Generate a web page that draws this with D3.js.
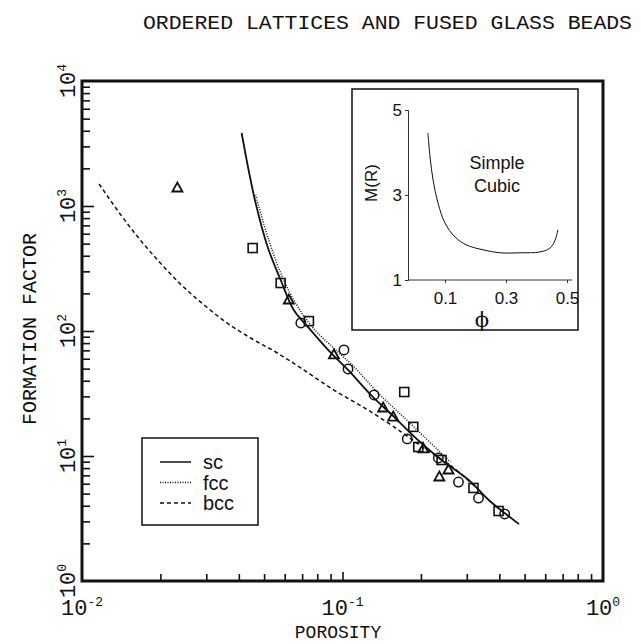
<!DOCTYPE html>
<meta charset="utf-8">
<script src="https://d3js.org/d3.v7.min.js"></script>
<style>
  body { margin: 0; background: #fff; }
  text { fill: #111; }
</style>
<div id="chart"></div>
<script>

// curves: [porosity, formation factor]
var sc = [[0.041, 3837], [0.0436, 1941], [0.0464, 1057], [0.0516, 470], [0.0579, 256],
  [0.065, 147], [0.0736, 108], [0.0903, 66.7], [0.105, 48.8], [0.131, 29.6], [0.158, 20.5],
  [0.195, 13.4], [0.24, 9.29], [0.305, 6.43], [0.364, 4.45], [0.476, 2.85]];
var fcc = [[0.0464, 1225], [0.0521, 535], [0.059, 265], [0.0668, 161], [0.077, 106],
  [0.0961, 67.9], [0.11, 52.5], [0.137, 31.9], [0.165, 22.1], [0.204, 14.5], [0.26, 8.95]];
var bcc = [[0.01163, 1500], [0.01401, 863], [0.01673, 535], [0.01998, 350], [0.02385, 238],
  [0.02849, 171], [0.0356, 118], [0.0444, 87.9], [0.0554, 67.9], [0.0692, 50.6], [0.0927, 33.7],
  [0.1254, 23.3], [0.168, 15.6], [0.21, 11.2], [0.262, 8.3], [0.321, 5.75]];

// measured samples
var squares = [[0.0452, 461], [0.0579, 242], [0.0743, 120], [0.1726, 32.5], [0.187, 17.1],
  [0.1954, 11.8], [0.24, 9.29], [0.3183, 5.55], [0.3973, 3.63]];
var triangles = [[0.02323, 1393], [0.0622, 177], [0.0927, 64.3], [0.1432, 24.2], [0.1565, 20.5],
  [0.2042, 11.4], [0.2551, 7.73], [0.2354, 6.79]];
var circles = [[0.0692, 116], [0.1013, 70.5], [0.105, 49.7], [0.1322, 30.8], [0.1773, 13.7],
  [0.2333, 9.64], [0.2787, 6.19], [0.3328, 4.61], [0.4193, 3.44]];

// inset: M(R) for simple cubic
var inset = [[0.044, 4.46], [0.051, 3.89], [0.061, 3.35], [0.077, 2.81], [0.1, 2.34],
  [0.133, 2.01], [0.172, 1.82], [0.225, 1.71], [0.28, 1.64], [0.346, 1.64], [0.411, 1.66],
  [0.444, 1.75], [0.461, 1.94], [0.47, 2.18]];
var insetXTicks = [0.1, 0.3, 0.5];
var insetYTicks = [1, 3, 5];

var xDecades = [-2, -1, 0];
var yDecades = [0, 1, 2, 3, 4];
var legendItems = ["sc", "fcc", "bcc"];

var W = 641, H = 644;
var plot = {left: 82, right: 603, top: 81, bottom: 581};
var mono = "'Liberation Mono', 'DejaVu Sans Mono', monospace";
var sans = "'Liberation Sans', Arial, sans-serif";

var svg = d3.select("#chart").append("svg")
  .attr("width", W).attr("height", H);

var x = d3.scaleLog().domain([0.01, 1]).range([plot.left, plot.right]);
var y = d3.scaleLog().domain([1, 1e4]).range([plot.bottom, plot.top]);

// title
svg.append("text")
  .attr("x", 143).attr("y", 29)
  .attr("textLength", 489).attr("lengthAdjust", "spacingAndGlyphs")
  .style("font-family", mono).style("font-size", "21px")
  .text("ORDERED LATTICES AND FUSED GLASS BEADS");

// minor ticks
var xMinor = [], yMinor = [];
for (var e = -2; e < 0; e++) for (var m = 2; m <= 9; m++) xMinor.push(m * Math.pow(10, e));
for (var e = 0; e < 4; e++) for (var m = 2; m <= 9; m++) yMinor.push(m * Math.pow(10, e));

function tickAxis(axis, vals, size, tr) {
  var g = svg.append("g").attr("transform", tr)
    .call(axis.tickValues(vals).tickSize(size).tickFormat(""));
  g.select(".domain").remove();
  g.selectAll("line").attr("stroke", "#111").attr("stroke-width", 1.6);
}
tickAxis(d3.axisBottom(x), xMinor, -7, "translate(0," + plot.bottom + ")");
tickAxis(d3.axisBottom(x), [0.1], -9, "translate(0," + plot.bottom + ")");
tickAxis(d3.axisLeft(y), yMinor, -8, "translate(" + plot.left + ",0)");
tickAxis(d3.axisLeft(y), [10, 100, 1000], -12, "translate(" + plot.left + ",0)");

// frame
svg.append("rect")
  .attr("x", plot.left).attr("y", plot.top)
  .attr("width", plot.right - plot.left).attr("height", plot.bottom - plot.top)
  .attr("fill", "none").attr("stroke", "#111").attr("stroke-width", 3);

// tick labels
xDecades.forEach(function(d) {
  var t = svg.append("text")
    .attr("x", x(Math.pow(10, d))).attr("y", 615)
    .attr("text-anchor", "middle")
    .style("font-family", mono).style("font-size", "22px");
  t.append("tspan").text("10");
  t.append("tspan").attr("dy", -9).style("font-size", "13px").text(d < 0 ? "-" + (-d) : d);
});
yDecades.forEach(function(d) {
  var t = svg.append("text")
    .attr("transform", "translate(75," + y(Math.pow(10, d)) + ") rotate(-90)")
    .attr("text-anchor", "middle")
    .style("font-family", mono).style("font-size", "22px");
  t.append("tspan").text("10");
  t.append("tspan").attr("dy", -9).style("font-size", "13px").text(d);
});

// axis titles
svg.append("text")
  .attr("x", 338).attr("y", 638).attr("text-anchor", "middle")
  .style("font-family", mono).style("font-size", "18px")
  .text("POROSITY");
svg.append("text")
  .attr("transform", "translate(36,329) rotate(-90)").attr("text-anchor", "middle")
  .style("font-family", mono).style("font-size", "20px")
  .text("FORMATION FACTOR");

// curves
var line = d3.line()
  .x(function(d) { return x(d[0]); })
  .y(function(d) { return y(d[1]); })
  .curve(d3.curveCatmullRom);

svg.append("path").datum(bcc).attr("d", line)
  .attr("fill", "none").attr("stroke", "#111").attr("stroke-width", 1.5)
  .attr("stroke-dasharray", "4,3");
svg.append("path").datum(fcc).attr("d", line)
  .attr("fill", "none").attr("stroke", "#111").attr("stroke-width", 1.5)
  .attr("stroke-dasharray", "1,1.5");
svg.append("path").datum(sc).attr("d", line)
  .attr("fill", "none").attr("stroke", "#111").attr("stroke-width", 1.8);

// markers
var s = 9;
svg.selectAll(".sq").data(squares).enter().append("rect")
  .attr("x", function(d) { return x(d[0]) - s / 2; })
  .attr("y", function(d) { return y(d[1]) - s / 2; })
  .attr("width", s).attr("height", s)
  .attr("fill", "none").attr("stroke", "#111").attr("stroke-width", 1.6);
svg.selectAll(".tri").data(triangles).enter().append("path")
  .attr("transform", function(d) { return "translate(" + x(d[0]) + "," + y(d[1]) + ")"; })
  .attr("d", "M0,-5.5L5,3.5L-5,3.5Z")
  .attr("fill", "none").attr("stroke", "#111").attr("stroke-width", 1.8);
svg.selectAll(".circ").data(circles).enter().append("circle")
  .attr("cx", function(d) { return x(d[0]); })
  .attr("cy", function(d) { return y(d[1]); })
  .attr("r", 4.7)
  .attr("fill", "none").attr("stroke", "#111").attr("stroke-width", 1.5);

// legend
var lg = svg.append("g");
lg.append("rect").attr("x", 142).attr("y", 438).attr("width", 116).attr("height", 87)
  .attr("fill", "none").attr("stroke", "#111").attr("stroke-width", 1.5);
var dashes = [null, "1,1.5", "4,3"];
legendItems.forEach(function(name, i) {
  var ly = 462 + i * 20.5;
  lg.append("line").attr("x1", 160).attr("x2", 191).attr("y1", ly).attr("y2", ly)
    .attr("stroke", "#111").attr("stroke-width", 1.5)
    .attr("stroke-dasharray", dashes[i]);
  lg.append("text").attr("x", 203).attr("y", ly + 7)
    .style("font-family", sans).style("font-size", "20px").text(name);
});

// inset
var ix = d3.scaleLinear().domain([0.1, 0.5]).range([445, 567]);
var iy = d3.scaleLinear().domain([1, 5]).range([280, 110]);
var ins = svg.append("g");
ins.append("rect").attr("x", 352).attr("y", 89).attr("width", 226).attr("height", 241)
  .attr("fill", "#fff").attr("stroke", "#111").attr("stroke-width", 1.5);

var ixAxis = ins.append("g").attr("transform", "translate(0,280)")
  .call(d3.axisBottom(ix).tickValues(insetXTicks).tickSize(3).tickFormat(d3.format(".1f")));
ixAxis.select(".domain").attr("d", "M408,0H572");
var iyAxis = ins.append("g").attr("transform", "translate(408,0)")
  .call(d3.axisLeft(iy).tickValues(insetYTicks).tickSize(3).tickFormat(d3.format("d")));
[ixAxis, iyAxis].forEach(function(g) {
  g.selectAll("path, line").attr("stroke", "#333").attr("stroke-width", 1);
  g.selectAll("text").style("font-family", sans).style("font-size", "17px").attr("fill", "#111");
});
ixAxis.selectAll("text").attr("dy", "1.05em");

var iline = d3.line()
  .x(function(d) { return ix(d[0]); })
  .y(function(d) { return iy(d[1]); })
  .curve(d3.curveCatmullRom);
ins.append("path").datum(inset).attr("d", iline)
  .attr("fill", "none").attr("stroke", "#111").attr("stroke-width", 1);

ins.append("text").attr("transform", "translate(377,183) rotate(-90)")
  .attr("text-anchor", "middle")
  .style("font-family", sans).style("font-size", "17px").text("M(R)");
ins.append("text").attr("x", 482).attr("y", 327).attr("text-anchor", "middle")
  .style("font-family", "'DejaVu Serif', serif").style("font-size", "21px").text("\u03d5");
ins.append("text").attr("x", 497).attr("y", 169).attr("text-anchor", "middle")
  .style("font-family", sans).style("font-size", "18px").text("Simple");
ins.append("text").attr("x", 497).attr("y", 192).attr("text-anchor", "middle")
  .style("font-family", sans).style("font-size", "18px").text("Cubic");

</script>
